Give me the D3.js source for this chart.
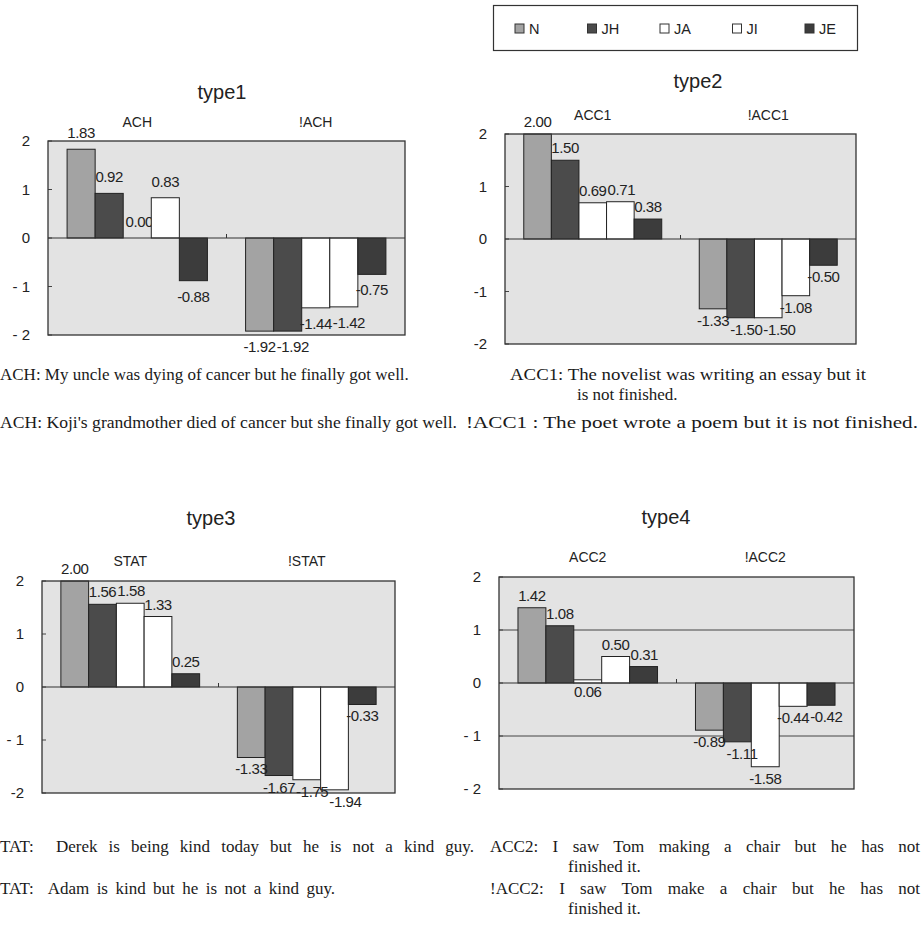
<!DOCTYPE html>
<html><head><meta charset="utf-8">
<script src="https://cdn.jsdelivr.net/npm/d3@7"></script>
<style>body{margin:0;background:#fff} svg{display:block}</style>
</head><body><svg id="c" width="922" height="941"></svg>
<script>
// ---------- data ----------
const seriesNames = ["N", "JH", "JA", "JI", "JE"];
const yTickValues = [2, 1, 0, -1, -2];

const type1Categories = ["ACH", "!ACH"];
const type1Values = [[1.83, 0.92, 0.00, 0.83, -0.88], [-1.92, -1.92, -1.44, -1.42, -0.75]];
const type1TickLabels = ["2", "1", "0", "- 1", "- 2"];

const type2Categories = ["ACC1", "!ACC1"];
const type2Values = [[2.00, 1.50, 0.69, 0.71, 0.38], [-1.33, -1.50, -1.50, -1.08, -0.50]];
const type2TickLabels = ["2", "1", "0", "-1", "-2"];

const type3Categories = ["STAT", "!STAT"];
const type3Values = [[2.00, 1.56, 1.58, 1.33, 0.25], [-1.33, -1.67, -1.75, -1.94, -0.33]];
const type3TickLabels = ["2", "1", "0", "- 1", "-2"];

const type4Categories = ["ACC2", "!ACC2"];
const type4Values = [[1.42, 1.08, 0.06, 0.50, 0.31], [-0.89, -1.11, -1.58, -0.44, -0.42]];
const type4TickLabels = ["2", "1", "0", "- 1", "- 2"];

// ---------- styles ----------
const seriesFill = ["#a3a3a3", "#4b4b4b", "#ffffff", "#ffffff", "#3c3c3c"];
const sans = "'Liberation Sans', Arial, sans-serif";
const serif = "'Liberation Serif', 'Times New Roman', serif";

const svg = d3.select("#c");
svg.append("rect").attr("width", 922).attr("height", 941).attr("fill", "#fff");

// ---------- legend ----------
const leg = svg.append("g");
leg.append("rect").attr("x", 493.5).attr("y", 5.5).attr("width", 364).attr("height", 45)
  .attr("fill", "#fff").attr("stroke", "#333").attr("stroke-width", 1.2);
const legX = d3.scalePoint().domain(seriesNames).range([515, 805]);
seriesNames.forEach((s, i) => {
  const x = legX(s);
  leg.append("rect").attr("x", x).attr("y", 24).attr("width", 9).attr("height", 9)
    .attr("fill", seriesFill[i]).attr("stroke", "#333").attr("stroke-width", 1);
  leg.append("text").attr("x", x + 14).attr("y", 33.5).text(s)
    .attr("font-family", sans).attr("font-size", 14.5).attr("fill", "#222");
});

// ---------- panels ----------
function drawPanel(cfg) {
  const g = svg.append("g");
  const y = d3.scaleLinear().domain([-2, 2]).range([cfg.yBot, cfg.yTop]);
  const xCat = d3.scaleBand().domain(cfg.categories).range([cfg.x0, cfg.x1]);
  const xSer = d3.scaleBand().domain(seriesNames).range([0, xCat.bandwidth()])
    .paddingInner(0).paddingOuter(0.68);

  g.append("text").attr("x", cfg.titleX).attr("y", cfg.titleY).attr("text-anchor", "middle")
    .attr("font-family", sans).attr("font-size", 20).attr("fill", "#222").text(cfg.title);
  cfg.categories.forEach(c => {
    g.append("text").attr("x", xCat(c) + xCat.bandwidth() / 2).attr("y", cfg.catY)
      .attr("text-anchor", "middle").attr("font-family", sans).attr("font-size", 14)
      .attr("fill", "#222").text(c);
  });

  g.append("rect").attr("x", cfg.x0).attr("y", cfg.yTop).attr("width", cfg.x1 - cfg.x0)
    .attr("height", cfg.yBot - cfg.yTop).attr("fill", "#e3e3e3");
  if (cfg.grid) {
    [1, -1].forEach(v => g.append("line").attr("x1", cfg.x0).attr("x2", cfg.x1)
      .attr("y1", y(v)).attr("y2", y(v)).attr("stroke", "#444").attr("stroke-width", 1));
  }

  const axis = d3.axisLeft(y).tickValues(yTickValues).tickSize(0).tickPadding(18)
    .tickFormat((d, i) => cfg.tickLabels[i]);
  const ag = g.append("g").attr("transform", `translate(${cfg.x0},0)`).call(axis);
  ag.select(".domain").remove();
  ag.selectAll("text").attr("font-family", sans).attr("font-size", 15).attr("fill", "#222");
  yTickValues.forEach(v => g.append("line").attr("x1", cfg.x0).attr("x2", cfg.x0 + 4)
    .attr("y1", y(v)).attr("y2", y(v)).attr("stroke", "#444"));

  const labels = [];
  const barLayer = g.append("g");
  const labelLayerBelow = g.insert("g", () => barLayer.node());
  cfg.categories.forEach((c, ci) => {
    cfg.values[ci].forEach((v, si) => {
      const bx = xCat(c) + xSer(seriesNames[si]);
      const bw = xSer.bandwidth();
      const y0 = y(Math.max(0, v)), y1 = y(Math.min(0, v));
      barLayer.append("rect").attr("x", bx).attr("y", y0).attr("width", bw)
        .attr("height", Math.max(0, y1 - y0)).attr("fill", seriesFill[si])
        .attr("stroke", "#222").attr("stroke-width", 1);
      const above = v >= 0.1 || v === 0;
      const pos = above ? y(v) - cfg.gapUp : y(v) + cfg.gapDown;
      labels.push({ci, txt: v.toFixed(2), cx: bx + bw / 2, by: pos, zero: v === 0});
    });
  });

  g.append("line").attr("x1", cfg.x0).attr("x2", cfg.x1).attr("y1", y(0)).attr("y2", y(0))
    .attr("stroke", "#333").attr("stroke-width", 1.2);
  g.append("line").attr("x1", xCat(cfg.categories[1])).attr("x2", xCat(cfg.categories[1]))
    .attr("y1", y(0) - 4).attr("y2", y(0)).attr("stroke", "#333");
  g.append("rect").attr("x", cfg.x0).attr("y", cfg.yTop).attr("width", cfg.x1 - cfg.x0)
    .attr("height", cfg.yBot - cfg.yTop).attr("fill", "none").attr("stroke", "#333")
    .attr("stroke-width", 1.3);

  const placed = [];
  labels.forEach(l => {
    const layer = l.zero ? labelLayerBelow : g;
    const t = layer.append("text").attr("font-family", sans).attr("font-size", 15)
      .attr("fill", "#222").attr("letter-spacing", -0.4).text(l.txt);
    const w = t.node().getComputedTextLength();
    let x = l.zero ? l.cx - w / 2 + 2 : l.cx - w / 2;
    placed.forEach(p => {
      if (p.ci === l.ci && Math.abs(p.by - l.by) < 12 && x < p.x + p.w + 1 && x + w > p.x) {
        x = p.x + p.w + 1;
      }
    });
    placed.push({ci: l.ci, x, w, by: l.by});
    t.attr("x", x).attr("y", l.by);
  });
}

drawPanel({title: "type1", categories: type1Categories, values: type1Values, tickLabels: type1TickLabels,
  x0: 48, x1: 405, yTop: 141, yBot: 335, titleX: 222, titleY: 99, catY: 127, grid: false, gapUp: 11, gapDown: 21});
drawPanel({title: "type2", categories: type2Categories, values: type2Values, tickLabels: type2TickLabels,
  x0: 505, x1: 856, yTop: 134, yBot: 344, titleX: 698, titleY: 88, catY: 120, grid: false, gapUp: 7, gapDown: 17});
drawPanel({title: "type3", categories: type3Categories, values: type3Values, tickLabels: type3TickLabels,
  x0: 42, x1: 395, yTop: 581, yBot: 793, titleX: 211, titleY: 525, catY: 566, grid: false, gapUp: 7, gapDown: 17});
drawPanel({title: "type4", categories: type4Categories, values: type4Values, tickLabels: type4TickLabels,
  x0: 499, x1: 854, yTop: 577, yBot: 789, titleX: 666, titleY: 524, catY: 562, grid: true, gapUp: 7, gapDown: 17});

// ---------- captions ----------
// mode "glyphs": stretched lettering; mode "words": justified with wider word gaps
const captions = [
  {t: "ACH: My uncle was dying of cancer but he finally got well.", x: 0, y: 380},
  {t: "ACH: Koji's grandmother died of cancer but she finally got well.", x: 0, y: 428, len: 457, mode: "glyphs"},
  {t: "ACC1: The novelist was writing an essay but it", x: 510, y: 380, len: 356, mode: "glyphs"},
  {t: "is not finished.", x: 577, y: 400},
  {t: "!ACC1 : The poet wrote a poem but it is not finished.", x: 466, y: 428, len: 452, mode: "glyphs"},
  {t: "TAT:  Derek is being kind today but he is not a kind guy.", x: 0, y: 852, len: 474, mode: "words"},
  {t: "TAT:  Adam is kind but he is not a kind guy.", x: 0, y: 894, len: 335, mode: "words"},
  {t: "ACC2: I saw Tom making a chair but he has not", x: 490, y: 852, len: 430, mode: "words"},
  {t: "finished it.", x: 568, y: 872},
  {t: "!ACC2: I saw Tom make a chair but he has not", x: 490, y: 894, len: 430, mode: "words"},
  {t: "finished it.", x: 568, y: 914}
];
captions.forEach(c => {
  const t = svg.append("text").attr("x", c.x).attr("y", c.y).attr("font-family", serif)
    .attr("font-size", 17).attr("fill", "#1a1a1a").attr("xml:space", "preserve").text(c.t);
  if (c.mode === "glyphs") {
    t.attr("textLength", c.len).attr("lengthAdjust", "spacingAndGlyphs");
  } else if (c.mode === "words") {
    const natural = t.node().getComputedTextLength();
    const spaces = (c.t.match(/ /g) || []).length;
    const extra = (c.len - natural) / Math.max(1, spaces);
    if (extra > 0) t.attr("word-spacing", extra.toFixed(2));
  }
});
</script></body></html>
